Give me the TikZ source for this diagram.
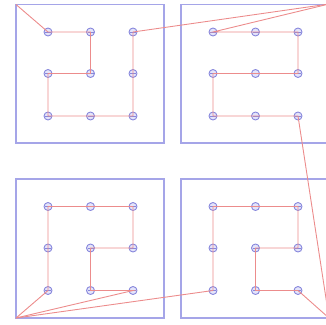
\documentclass[tikz,border=0pt]{standalone}
\definecolor{boxcol}{RGB}{165,165,232}
\definecolor{linecol}{RGB}{236,140,140}
\definecolor{dotcol}{RGB}{135,135,220}
\definecolor{dotfill}{RGB}{228,228,250}
\begin{document}
\begin{tikzpicture}[x=1pt,y=-1pt,
  panel/.style={draw=boxcol,line width=1.3pt},
  link/.style={draw=linecol,line width=0.9pt},
  dot/.style={circle,draw=dotcol,fill=dotfill,line width=0.9pt,minimum size=8pt,inner sep=0pt,
    path picture={\draw[dotcol,line width=0.8pt] ([xshift=-3pt]path picture bounding box.center) -- ([xshift=3pt]path picture bounding box.center);}}]
\useasboundingbox (0,0) rectangle (326,324);
\begin{scope}
\clip (0,0) rectangle (326,324);
% panels
\draw[panel] (16,4.5) rectangle (164,143);
\draw[panel] (181,4.5) rectangle (329,143);
\draw[panel] (16,179) rectangle (164,318);
\draw[panel] (181,179) rectangle (329,318);
% corners
\coordinate (cA) at (16,4.5);
\coordinate (cB) at (329,4);
\coordinate (cC) at (16,318);
\coordinate (cD) at (329,318);
% dots
\foreach \b/\ox/\oy in {A/16/4.5, B/181/4.5, C/16/179, D/181/179}{
  \foreach \c/\dx in {0/32,1/74.5,2/117}{
    \foreach \r/\dy in {0/27.5,1/69,2/111.5}{
      \node[dot] (\b\c\r) at (\ox+\dx,\oy+\dy) {};
    }
  }
}
% path
\draw[link] (cA) -- (A00.center) -- (A10.center) -- (A11.center) -- (A01.center) -- (A02.center) -- (A12.center) -- (A22.center) -- (A21.center) -- (A20.center) -- (cB);
\draw[link] (cB) -- (B00.center) -- (B10.center) -- (B20.center) -- (B21.center) -- (B11.center) -- (B01.center) -- (B02.center) -- (B12.center) -- (B22.center) -- (cD);
\draw[link] (cD) -- (D22.center) -- (D12.center) -- (D11.center) -- (D21.center) -- (D20.center) -- (D10.center) -- (D00.center) -- (D01.center) -- (D02.center) -- (cC);
\draw[link] (cC) -- (C02.center) -- (C01.center) -- (C00.center) -- (C10.center) -- (C20.center) -- (C21.center) -- (C11.center) -- (C12.center) -- (C22.center) -- (cC);
\end{scope}
\end{tikzpicture}
\end{document}
